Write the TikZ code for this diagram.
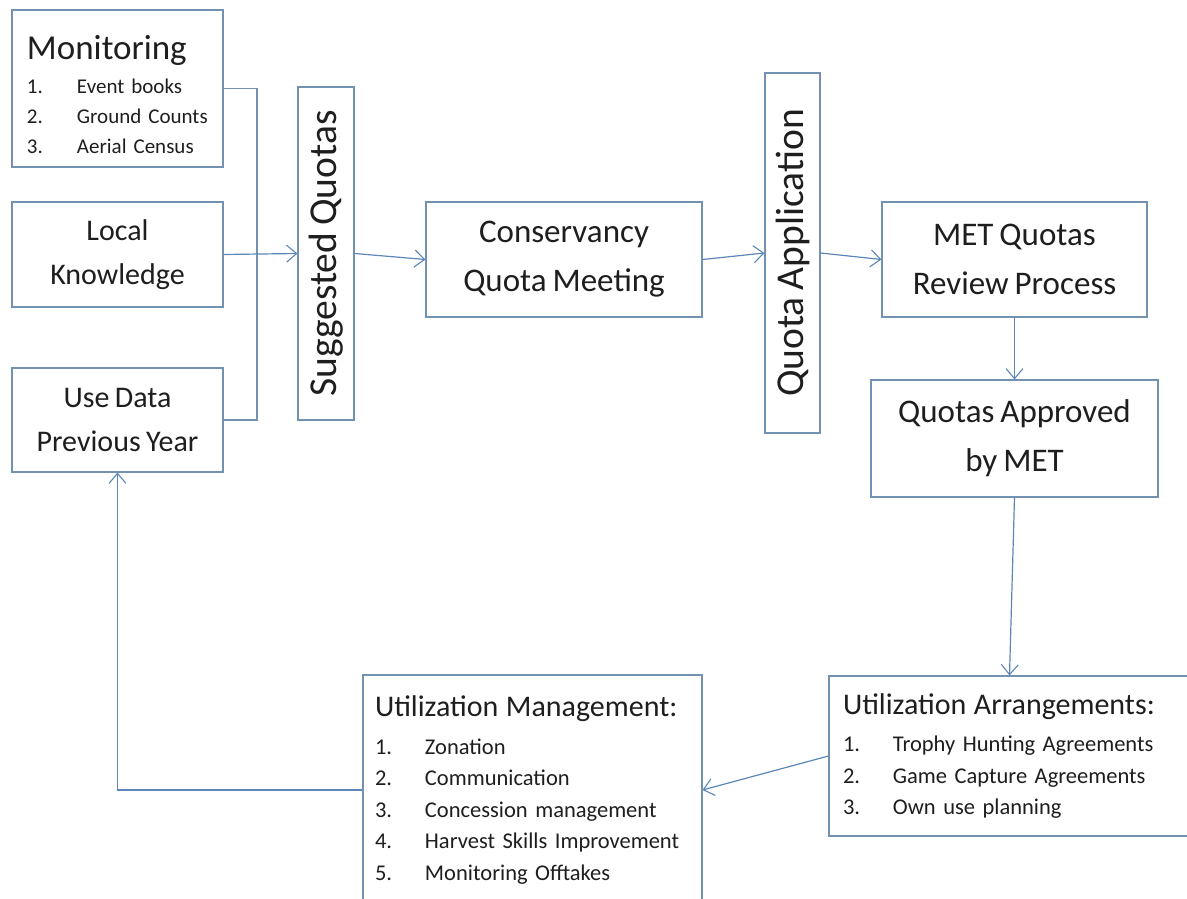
\documentclass[tikz,border=0pt]{standalone}
\usepackage{fontspec}
\setmainfont{Carlito}[WordSpace=0.8]
\usepackage{xcolor}
\usetikzlibrary{positioning, arrows.meta, calc}
\definecolor{boxedge}{HTML}{7391B0}
\definecolor{flowblue}{HTML}{5C86B8}
\definecolor{inktext}{HTML}{1E1E1E}

\newcommand{\bigtxt}{\fontsize{33}{49}\selectfont}
\newcommand{\sidetxt}{\fontsize{30}{44}\selectfont}
\newcommand{\talltxt}{\fontsize{39.5}{45}\selectfont}
\newcommand{\headtxt}{\fontsize{30}{36}\selectfont}
\newcommand{\entry}[2]{\makebox[50pt][l]{#1}#2}

\begin{document}
\begin{tikzpicture}[x=1pt, y=-1pt,
    stage/.style={draw=boxedge, line width=1.1pt, text=inktext, inner sep=0pt, align=center, font=\bigtxt},
    listbox/.style={draw=boxedge, line width=1.1pt, text=inktext, inner sep=0pt, align=left},
    flow/.style={draw=flowblue, line width=1.2pt, -{Straight Barb[length=10pt, width=17pt, line width=1.1pt]}}]
  \useasboundingbox (0,0) rectangle (1187,899);

  % inputs on the left
  \node[listbox, minimum width=211pt, minimum height=157pt, text width=181pt,
        font=\fontsize{21}{30}\selectfont] (monitoring) at (117.5,88.5)
    {\rule{0pt}{36pt}{\fontsize{35}{40}\selectfont Monitoring}\\[4pt]
     \entry{1.}{Event books}\\ \entry{2.}{Ground Counts}\\ \entry{3.}{Aerial Census}};
  \node[stage, font=\sidetxt, minimum width=211pt, minimum height=105pt] (localknow) at (117.5,254.5) {Local\\Knowledge};
  \node[stage, font=\sidetxt, minimum width=211pt, minimum height=104pt] (usedata) at (117.5,420) {Use Data\\Previous Year};

  % upright boxes
  \node[stage, font=\talltxt, minimum width=56pt, minimum height=333pt] (suggested) at (326,253.5) {\rotatebox{90}{Suggested Quotas}};
  \node[stage, font=\talltxt, minimum width=55pt, minimum height=360pt] (application) at (792.5,253) {\rotatebox{90}{Quota Application}};

  \node[stage, minimum width=276pt, minimum height=115pt] (meeting) at (564,259.5) {Conservancy\\Quota Meeting};
  \node[stage, minimum width=265pt, minimum height=115pt] (review) at (1014.5,259.5) {MET Quotas\\Review Process};
  \node[stage, minimum width=287pt, minimum height=117pt] (approved) at (1014.5,438.5) {Quotas Approved\\by MET};

  % lower row
  \node[listbox, minimum width=361pt, minimum height=160pt, text width=333pt,
        font=\fontsize{22.5}{31.5}\selectfont] (arrangements) at (1009.5,756)
    {{\headtxt Utilization Arrangements:}\\[6pt]
     \entry{1.}{Trophy Hunting Agreements}\\ \entry{2.}{Game Capture Agreements}\\ \entry{3.}{Own use planning}};
  \node[listbox, minimum width=339pt, minimum height=230pt, text width=315pt,
        font=\fontsize{22.5}{31.5}\selectfont] (management) at (532.5,790)
    {{\headtxt Utilization Management:}\\[6pt]
     \entry{1.}{Zonation}\\ \entry{2.}{Communication}\\ \entry{3.}{Concession management}\\
     \entry{4.}{Harvest Skills Improvement}\\ \entry{5.}{Monitoring Offtakes}};

  % bracket gathering the three inputs
  \coordinate (join) at (257,254.5);
  \draw[draw=boxedge, line width=1.1pt] (monitoring.east) -| (join) |- (usedata.east);

  \draw[flow] (localknow.east) -- (suggested.west);
  \draw[flow] (suggested.east) -- (meeting.west);
  \draw[flow] (meeting.east) -- (application.west);
  \draw[flow] (application.east) -- (review.west);
  \draw[flow] (review.south) -- (approved.north);
  \draw[flow] (approved.south) -- (arrangements.north);
  \draw[flow] (arrangements.west) -- (management.east);
  \draw[flow] (management.west) -| (usedata.south);
\end{tikzpicture}
\end{document}
